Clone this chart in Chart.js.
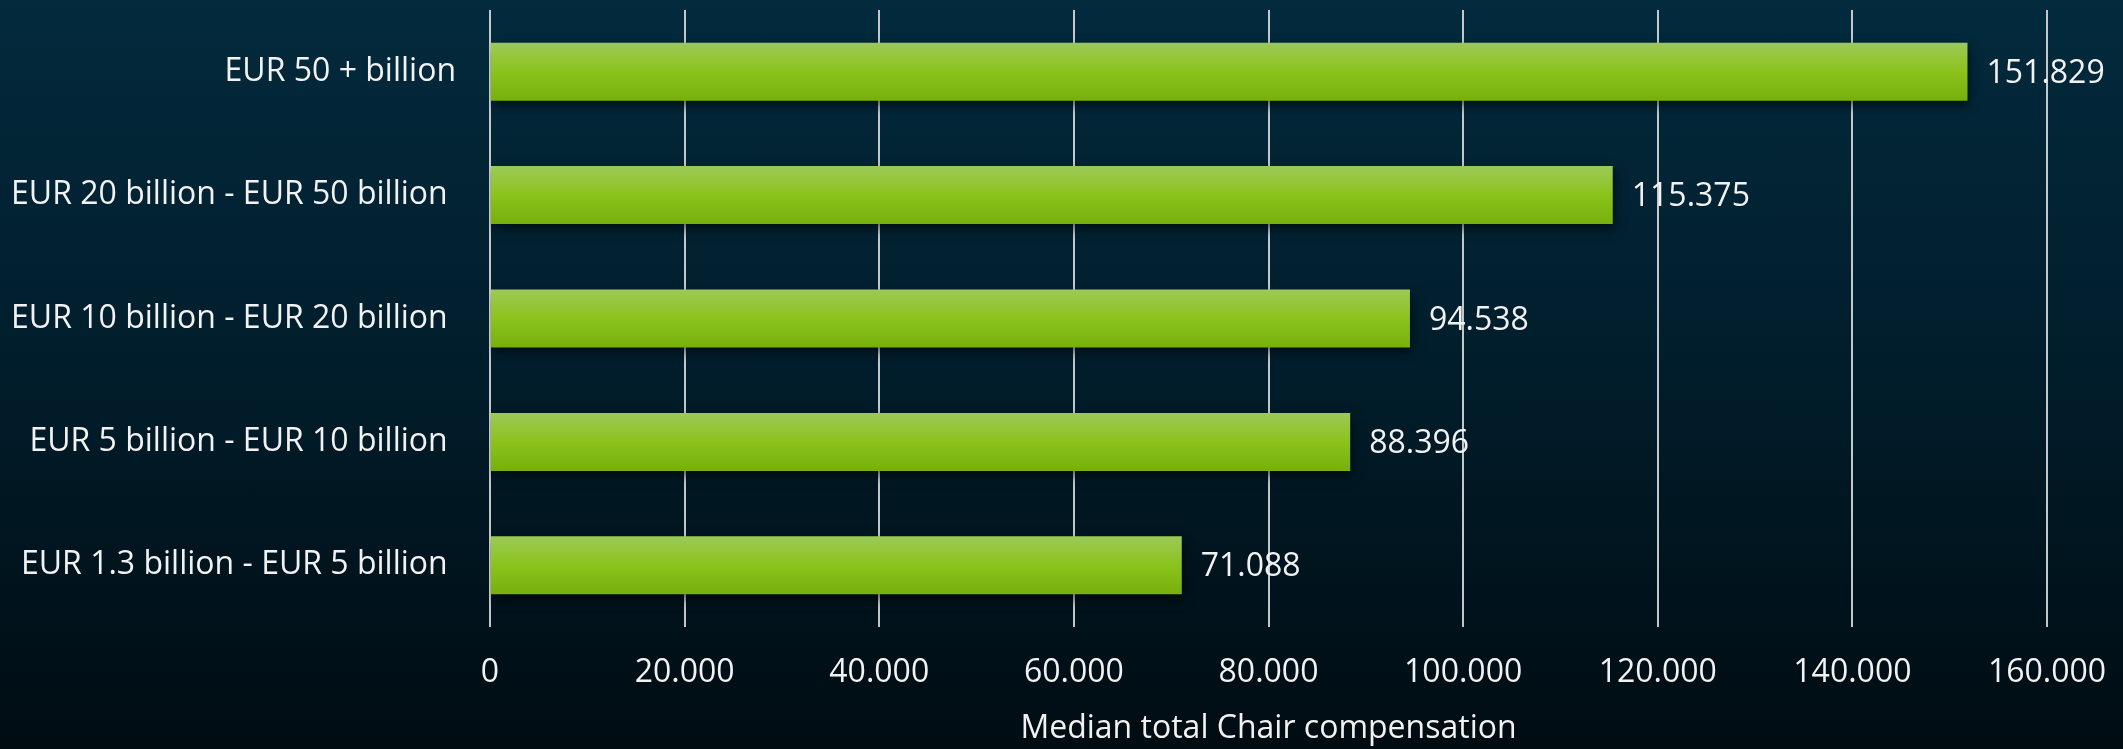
<!DOCTYPE html>
<html>
<head>
<meta charset="utf-8">
<script src="https://cdn.jsdelivr.net/npm/chart.js@4/dist/chart.umd.min.js"></script>
<style>
  html, body { margin: 0; padding: 0; }
  body { width: 2123px; height: 749px; background: linear-gradient(to bottom, #032a3d 0%, #011d2b 50%, #000c12 100%); overflow: hidden; }
  #wrap { position: relative; width: 2123px; height: 749px; }
</style>
</head>
<body>
<div id="wrap"><canvas id="c" width="2123" height="749"></canvas></div>
<script>
const categories = [
  "EUR 50 + billion",
  "EUR 20 billion - EUR 50 billion ",
  "EUR 10 billion - EUR 20 billion ",
  "EUR 5 billion - EUR 10 billion ",
  "EUR 1.3 billion - EUR 5 billion "
];
const medianChairComp = [151829, 115375, 94538, 88396, 71088];
const xTicks = [0, 20000, 40000, 60000, 80000, 100000, 120000, 140000, 160000];
const xTitle = "Median total Chair compensation";

const FONT = "'Open Sans', 'Noto Sans', sans-serif";
const FS = 32;
const BAR_PCT = 0.47;

function fmt(v) { return String(v).replace(/\B(?=(\d{3})+(?!\d))/g, '.'); }

const shadowPlugin = {
  id: 'barShadow',
  beforeDatasetsDraw(chart) {
    const ctx = chart.ctx;
    ctx.save();
    ctx.shadowColor = 'rgba(0,0,0,0.55)';
    ctx.shadowBlur = 10;
    ctx.shadowOffsetX = 2;
    ctx.shadowOffsetY = 5;
  },
  afterDatasetsDraw(chart) {
    chart.ctx.restore();
  }
};

const valueLabels = {
  id: 'valueLabels',
  afterDatasetsDraw(chart) {
    const ctx = chart.ctx;
    const meta = chart.getDatasetMeta(0);
    ctx.save();
    ctx.font = FS + "px " + FONT;
    ctx.fillStyle = '#f2f2f2';
    ctx.textAlign = 'left';
    ctx.textBaseline = 'middle';
    meta.data.forEach((bar, i) => {
      ctx.fillText(fmt(medianChairComp[i]), bar.x + 19, bar.y + 2);
    });
    ctx.restore();
  }
};

function barGradient(context) {
  const chart = context.chart;
  const y = chart.scales && chart.scales.y;
  if (!y || context.dataIndex === undefined) return '#8ac41c';
  const c = y.getPixelForValue(context.dataIndex);
  const pitch = (y.bottom - y.top) / categories.length;
  const h = pitch * BAR_PCT / 2;
  if (!isFinite(c) || !isFinite(h) || h <= 0) return '#8ac41c';
  const g = chart.ctx.createLinearGradient(0, c - h, 0, c + h);
  g.addColorStop(0, '#9bca58');
  g.addColorStop(0.5, '#8bc31c');
  g.addColorStop(1, '#77b00c');
  return g;
}

new Chart(document.getElementById('c'), {
  type: 'bar',
  data: {
    labels: categories,
    datasets: [{
      data: medianChairComp,
      backgroundColor: barGradient,
      borderWidth: 0,
      categoryPercentage: 1,
      barPercentage: BAR_PCT
    }]
  },
  options: {
    indexAxis: 'y',
    responsive: false,
    animation: false,
    events: [],
    layout: { padding: { top: 10, right: 76, bottom: 0, left: 0 } },
    plugins: { legend: { display: false }, tooltip: { enabled: false } },
    scales: {
      x: {
        min: 0,
        max: 160000,
        afterBuildTicks(scale) { scale.ticks = xTicks.map(v => ({ value: v })); },
        afterFit(scale) { scale.height = 122; scale.paddingRight = 0; scale.paddingLeft = 0; },
        ticks: {
          color: '#f2f2f2',
          font: { family: FONT, size: FS },
          padding: 27,
          maxRotation: 0,
          callback: v => fmt(v)
        },
        grid: { color: 'rgba(215,218,220,0.9)', lineWidth: 2, drawTicks: false },
        border: { display: false },
        title: {
          display: true,
          text: xTitle,
          color: '#f2f2f2',
          font: { family: FONT, size: FS },
          padding: { top: 0, bottom: 1 }
        }
      },
      y: {
        ticks: {
          color: '#f2f2f2',
          font: { family: FONT, size: FS },
          padding: 26
        },
        grid: { display: false },
        border: { display: false },
        afterFit(scale) { scale.width = 490; scale.paddingTop = 0; scale.paddingBottom = 0; }
      }
    }
  },
  plugins: [shadowPlugin, valueLabels]
});
</script>
</body>
</html>
